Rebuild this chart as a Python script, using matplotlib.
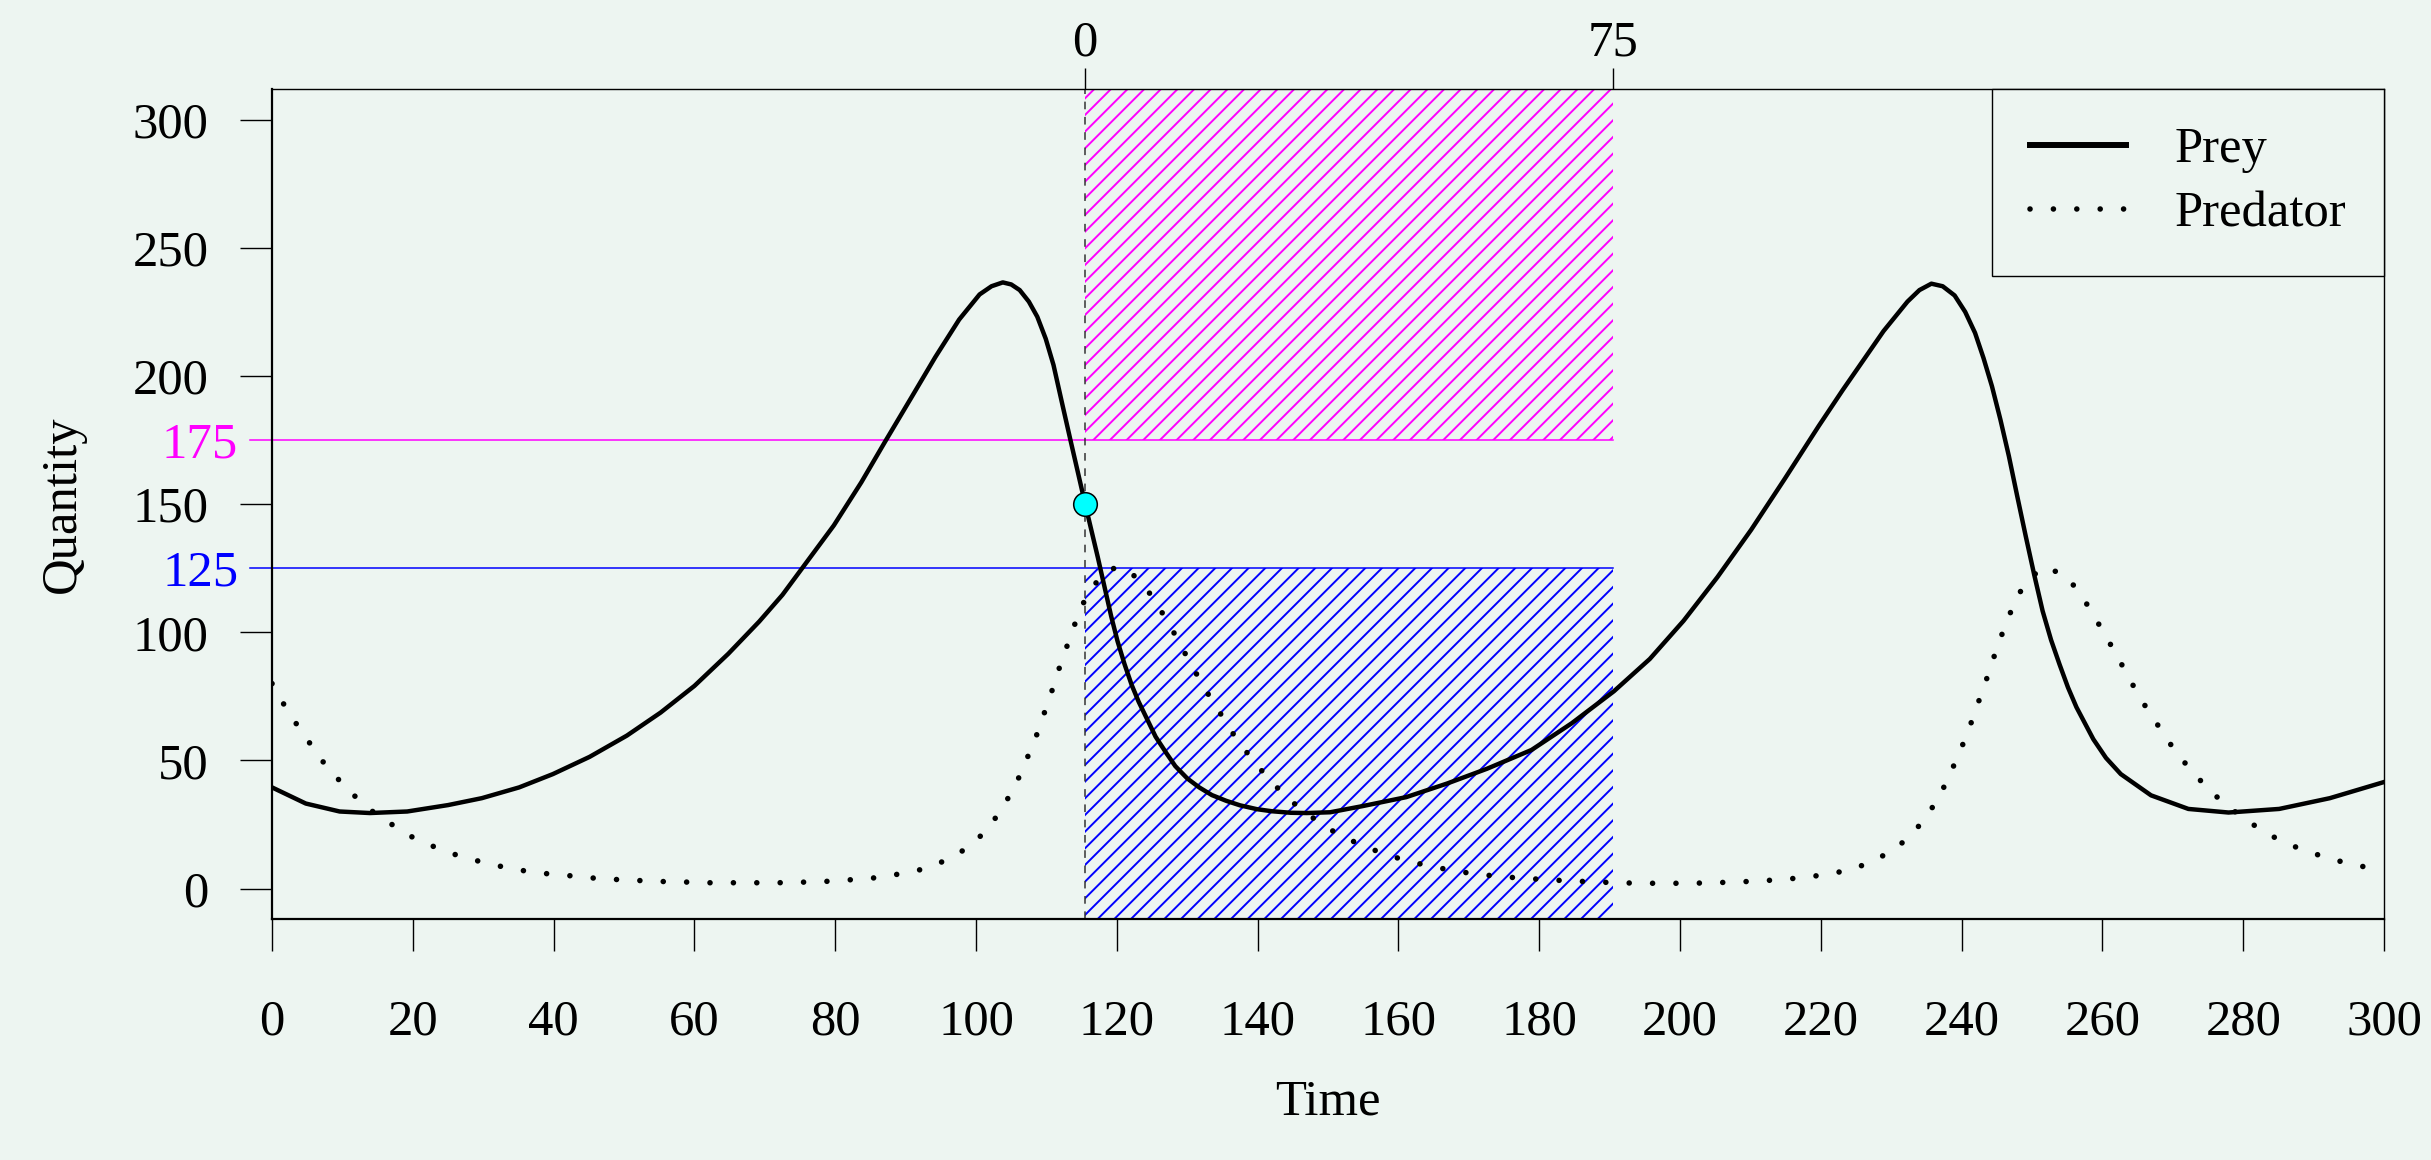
import matplotlib
matplotlib.use('Agg')
import matplotlib.pyplot as plt
from matplotlib.patches import Rectangle
from matplotlib.lines import Line2D

plt.rcParams['font.family'] = ['Liberation Serif', 'DejaVu Serif']
plt.rcParams['hatch.linewidth'] = 1.4

bg = '#EDF5F1'

# prey curve (time, quantity)
prey_t = [0, 4.8, 9.6, 13.9, 19.2, 25, 29.8, 35.1, 39.9, 45.1, 50.4, 55.2, 60, 64.8,
          69.2, 72.5, 75.3, 79.8, 83.7, 87, 90.9, 94.2, 97.6, 100.5, 102.2, 103.8,
          105, 106.2, 107.5, 108.7, 109.9, 111, 112.3, 113.4, 114.5, 115.5, 116.4,
          117.3, 118.2, 119.2, 120.1, 121.1, 122.1, 123.1, 124.3, 125.5, 127, 128.3,
          130, 131.7, 133.5, 135.5, 137.5, 139.9, 142, 144.7, 147, 150.3, 154.9,
          161.1, 166.9, 172.6, 178.9, 184.6, 190.6, 195.7, 200.5, 205.3, 210.1, 214.9,
          219.7, 223.1, 226, 228.9, 232.3, 234, 235.7, 237.3, 239, 240.5, 241.9,
          243.1, 244.3, 245.5, 246.7, 247.9, 249.1, 250.3, 251.5, 252.7, 253.9, 255.1,
          256.3, 258.7, 260.5, 262.6, 266.9, 272.2, 277.9, 285.1, 292.3, 300]
prey = [39.5, 33.2, 30.1, 29.5, 30.1, 32.6, 35.3, 39.5, 44.7, 51.4, 59.7, 68.7, 79.1, 91.6,
        104.2, 114.6, 125, 141.7, 158.5, 174, 192, 207.3, 222, 231.8, 235, 236.5,
        235.7, 233.5, 229, 223.1, 214.5, 204.3, 188.4, 175.1, 162, 150, 139.6,
        129.2, 118.3, 106.2, 96.5, 87.5, 79.5, 72.9, 66.1, 59.3, 53, 47.8,
        43, 39.5, 36.5, 34.3, 32.5, 31, 30.2, 29.6, 29.5, 29.8, 32.2,
        35.7, 41, 46.8, 54.1, 64.5, 77, 89.6, 104.5, 121.5, 140, 160,
        180.5, 194.5, 206, 217.5, 229, 233.5, 236, 235, 231.4, 225, 216.8,
        207, 196, 183, 168.8, 153, 137.5, 122.5, 108.3, 97, 87.5, 78.5,
        70.8, 58.3, 51, 44.7, 36.4, 31.1, 29.7, 31.1, 35.3, 41.6]

# predator curve
pred_t = [0, 1.7, 3.5, 5.4, 7.3, 9.5, 11.8, 14.3, 17.1, 19.8, 22.9, 25.9, 29.1, 32.3,
          35.5, 38.8, 42.1, 45.3, 48.7, 51.9, 55.2, 58.5, 61.9, 65.1, 68.4, 71.8, 75,
          78.5, 81.8, 85, 88.2, 91.5, 94.6, 97.6, 100.2, 102.4, 104.2, 105.8, 107.1,
          108.4, 109.5, 110.6, 111.6, 112.7, 113.8, 115, 116.6, 118.8, 120.5, 121.9,
          124.2, 126, 127.7, 129.3, 130.9, 132.5, 134.3, 136, 137.9, 140, 142.2, 144.5,
          147.1, 149.8, 152.7, 155.7, 158.8, 162, 165.2, 168.4, 171.7, 174.9, 178.2,
          181.5, 184.7, 188, 191.3, 194.6, 198, 201.4, 204.7, 208, 211.3, 214.6, 217.8,
          221.1, 224.3, 227.4, 230.3, 232.8, 234.9, 236.7, 238.2, 239.5, 240.8, 241.9,
          243, 244.1, 245.1, 246.3, 247.5, 249.1, 251.6, 254.6, 256.8, 258.5, 260.2,
          261.8, 263.4, 265, 266.7, 268.6, 270.4, 272.6, 274.8, 277.2, 279.9, 282.6,
          285.5, 288.5, 291.7, 294.8, 298.1, 300]
pred = [80, 71.8, 64.1, 56.6, 49.3, 42.4, 36, 30.1, 24.9, 20.3, 16.5, 13.4, 10.9, 8.8,
        7.1, 5.9, 5.1, 4.2, 3.6, 3.2, 2.8, 2.6, 2.3, 2.3, 2.3, 2.3, 2.5,
        2.8, 3.4, 4.0, 5.3, 6.9, 9.7, 13.8, 19.2, 26.1, 33.6, 41.6, 49.9,
        58.3, 67, 75.6, 84.3, 92.9, 101.5, 110.2, 118, 124.4, 125.5, 123.6,
        117.1, 109.6, 101.9, 93.7, 85.8, 77.9, 70.2, 62.4, 55.1, 47.8, 41, 34.7,
        29.1, 23.8, 19.5, 15.9, 12.8, 10.3, 8.4, 6.7, 5.5, 4.6, 4,
        3.4, 3, 2.6, 2.3, 2.1, 2.1, 2.1, 2.3, 2.6, 3, 3.6, 4.4,
        5.7, 7.4, 10.7, 15.1, 20.7, 27.8, 35.3, 43.7, 52, 60.4, 69.1,
        77.5, 86.2, 94.8, 103.3, 111.7, 119.6, 125.5, 122.5, 115.4, 107.7, 99.8,
        92.1, 84.1, 76, 68.5, 60.8, 53.3, 46.2, 39.5, 33.4, 27.8, 22.8,
        18.4, 15.1, 12.2, 9.9, 8, 7.2]

t_star = 115.5      # prey passes 150 here
prey_star = 150
window = 75
upper = 175
lower = 125
ylo, yhi = -12, 312
line_start = -3.1   # threshold lines start a bit left of the axis
label_x = -4.8

fs = 36.5
dotted = (0, (0.01, 4.2))

fig = plt.figure(figsize=(24.31, 11.6), dpi=100, facecolor=bg)
ax = fig.add_axes([0.1119, 0.2074, 0.8688, 0.7160])
ax.set_facecolor(bg)
ax.set_xlim(0, 300)
ax.set_ylim(ylo, yhi)

# hatched windows
ax.add_patch(Rectangle((t_star, upper), window, yhi - upper, facecolor='none',
                       edgecolor='magenta', hatch='//', lw=0))
ax.add_patch(Rectangle((t_star, ylo), window, lower - ylo, facecolor='none',
                       edgecolor='blue', hatch='//', lw=0))

# threshold lines and their labels
ax.plot([line_start, t_star + window], [upper, upper], color='magenta', lw=1.1, clip_on=False)
ax.plot([line_start, t_star + window], [lower, lower], color='blue', lw=1.1, clip_on=False)
ax.text(label_x, upper, str(upper), color='magenta', fontsize=fs, ha='right', va='center_baseline')
ax.text(label_x, lower, str(lower), color='blue', fontsize=fs, ha='right', va='center_baseline')

ax.axvline(t_star, color='#333333', lw=1.1, ls=(0, (5, 5)))

ax.plot(prey_t, prey, color='black', lw=3.2, solid_joinstyle='round')
ax.plot(pred_t, pred, color='black', lw=4.0, ls=dotted, dash_capstyle='round')
ax.plot(t_star, prey_star, 'o', ms=17, mfc='cyan', mec='black', mew=1.1, zorder=5)

ax.set_xticks(range(0, 301, 20))
ax.set_yticks(range(0, 301, 50))
ax.tick_params(axis='both', direction='out', length=23, width=1.0, labelsize=fs)
ax.tick_params(axis='x', pad=34.5)
ax.tick_params(axis='y', pad=22.5)
for side in ['top', 'right']:
    ax.spines[side].set_linewidth(1.0)
for side in ['bottom', 'left']:
    ax.spines[side].set_linewidth(1.6)

# time since the crossing, on top
sec = ax.secondary_xaxis('top', functions=(lambda x: x - t_star, lambda x: x + t_star))
sec.set_xticks([0, window], ['0', str(window)])
sec.tick_params(direction='out', length=15, width=1.0, labelsize=fs, pad=1)
sec.spines['top'].set_visible(False)

ax.set_xlabel('Time', fontsize=fs, labelpad=24)
ax.set_ylabel('Quantity', fontsize=fs, labelpad=34)

handles = [Line2D([], [], color='black', lw=4.3),
           Line2D([], [], color='black', lw=4.0, ls=dotted, dash_capstyle='round')]
leg = ax.legend(handles, ['Prey', 'Predator'], loc='upper right', bbox_to_anchor=(1, 1),
                borderaxespad=0, fancybox=False, edgecolor='black', framealpha=1,
                facecolor=bg, fontsize=fs, handlelength=1.9, handletextpad=0.95,
                borderpad=0.75, labelspacing=0.35)
leg.get_frame().set_linewidth(1.0)

fig.savefig('out.png', dpi=100, facecolor=bg)
